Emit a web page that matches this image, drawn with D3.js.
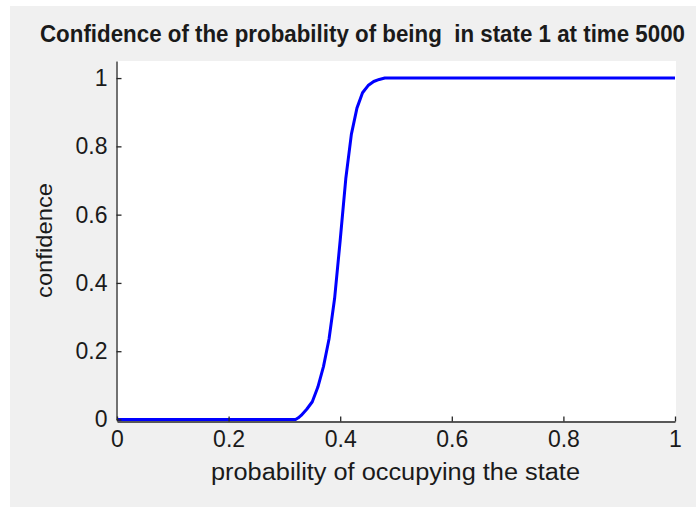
<!DOCTYPE html>
<html>
<head>
<meta charset="utf-8">
<script src="https://cdn.jsdelivr.net/npm/d3@7"></script>
<style>
  html, body { margin: 0; padding: 0; background: #ffffff; }
  svg { display: block; }
  text { font-family: "Liberation Sans", Arial, sans-serif; fill: #1a1a1a; }
</style>
</head>
<body>
<svg id="chart" width="696" height="507"></svg>
<script>
// ---- data ----
const probability = [0, 0.32, 0.325, 0.33, 0.34, 0.35, 0.36, 0.37, 0.38, 0.39, 0.40, 0.41, 0.42, 0.43, 0.44, 0.45, 0.46, 0.47, 0.48, 1.0];
const confidence  = [0, 0,    0.005, 0.012, 0.03, 0.052, 0.095, 0.155, 0.236, 0.355, 0.525, 0.705, 0.835, 0.912, 0.957, 0.978, 0.99, 0.996, 1.0, 1.0];
const xTicks = [0, 0.2, 0.4, 0.6, 0.8, 1];
const yTicks = [0, 0.2, 0.4, 0.6, 0.8, 1];
const titleText = "Confidence of the probability of being  in state 1 at time 5000";
const xLabelText = "probability of occupying the state";
const yLabelText = "confidence";

const svg = d3.select("#chart");

// figure background (gray with thin white strip top/left)
svg.append("rect").attr("x", 10).attr("y", 6).attr("width", 686).attr("height", 501).attr("fill", "#f0f0f0");

const x = d3.scaleLinear().domain([0, 1]).range([117, 675]);
const y = d3.scaleLinear().domain([0, 1.05]).range([419.5, 61]);

// plot area
svg.append("rect").attr("x", 116).attr("y", 61).attr("width", 560).attr("height", 360).attr("fill", "#ffffff");

// data line
const pts = probability.map((p, i) => [p, confidence[i]]);
svg.append("path")
  .datum(pts)
  .attr("fill", "none")
  .attr("stroke", "#0000ff")
  .attr("stroke-width", 3)
  .attr("stroke-linejoin", "round")
  .attr("d", d3.line().x(d => x(d[0])).y(d => y(d[1])));

const fmt = d => d3.format("~g")(d);

// x axis
const gx = svg.append("g").attr("transform", "translate(0,421.5)")
  .call(d3.axisBottom(x).tickValues(xTicks).tickFormat(fmt).tickSizeInner(-5).tickSizeOuter(0).tickPadding(9));
gx.select(".domain").attr("stroke", "#262626").attr("stroke-width", 1.3);
gx.selectAll(".tick line").attr("stroke", "#262626").attr("stroke-width", 1.3);
gx.selectAll(".tick text").style("font-size", "23px").style("font-family", "'Liberation Sans', Arial, sans-serif").attr("fill", "#1a1a1a");

// y axis
const gy = svg.append("g").attr("transform", "translate(116.5,0)")
  .call(d3.axisLeft(y).tickValues(yTicks).tickFormat(fmt).tickSizeInner(-5).tickSizeOuter(0).tickPadding(9));
gy.select(".domain").attr("stroke", "#262626").attr("stroke-width", 1.3);
gy.selectAll(".tick line").attr("stroke", "#262626").attr("stroke-width", 1.3);
gy.selectAll(".tick text").style("font-size", "23px").style("font-family", "'Liberation Sans', Arial, sans-serif").attr("fill", "#1a1a1a");

// title
svg.append("text")
  .attr("transform", "translate(40,42) scale(1,1.1)")
  .attr("x", 0).attr("y", 0)
  .attr("textLength", 645).attr("lengthAdjust", "spacingAndGlyphs")
  .style("font-size", "21px").style("font-weight", "bold")
  .style("white-space", "pre")
  .text(titleText);

// x label
svg.append("text")
  .attr("x", 211).attr("y", 480)
  .attr("textLength", 369).attr("lengthAdjust", "spacingAndGlyphs")
  .style("font-size", "23px")
  .text(xLabelText);

// y label
svg.append("text")
  .attr("transform", "translate(52,298) rotate(-90)")
  .attr("x", 0).attr("y", 0)
  .attr("textLength", 115).attr("lengthAdjust", "spacingAndGlyphs")
  .style("font-size", "22px")
  .text(yLabelText);
</script>
</body>
</html>
